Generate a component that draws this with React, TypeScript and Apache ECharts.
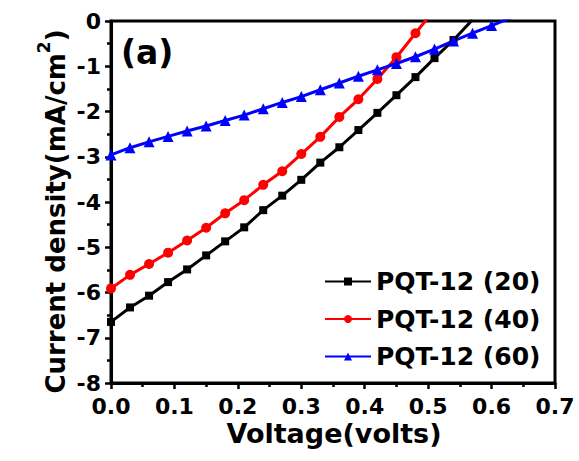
import React, { useEffect, useRef } from "react";
import * as echarts from "echarts";

const seriesNames = ["PQT-12 (20)", "PQT-12 (40)", "PQT-12 (60)"];
const seriesColors = ["#000000", "#ff0000", "#0000ff"];
const seriesSymbols = ["rect", "circle", "triangle"];

const voltage20 = [0, 0.03, 0.06, 0.09, 0.12, 0.15, 0.18, 0.21, 0.24, 0.27, 0.30, 0.33, 0.36, 0.39, 0.42, 0.45, 0.48, 0.51, 0.54, 0.57];
const current20 = [-6.65, -6.33, -6.07, -5.77, -5.49, -5.18, -4.87, -4.56, -4.18, -3.86, -3.51, -3.13, -2.79, -2.41, -2.03, -1.64, -1.24, -0.82, -0.42, 0.03];

const voltage40 = [0, 0.03, 0.06, 0.09, 0.12, 0.15, 0.18, 0.21, 0.24, 0.27, 0.30, 0.33, 0.36, 0.39, 0.42, 0.45, 0.48, 0.51];
const current40 = [-5.91, -5.61, -5.37, -5.12, -4.85, -4.57, -4.25, -3.96, -3.62, -3.32, -2.94, -2.56, -2.12, -1.73, -1.28, -0.80, -0.27, 0.25];

const voltage60 = [0, 0.03, 0.06, 0.09, 0.12, 0.15, 0.18, 0.21, 0.24, 0.27, 0.30, 0.33, 0.36, 0.39, 0.42, 0.45, 0.48, 0.51, 0.54, 0.57, 0.60, 0.63];
const current60 = [-2.96, -2.80, -2.67, -2.55, -2.43, -2.32, -2.20, -2.08, -1.94, -1.80, -1.67, -1.52, -1.37, -1.22, -1.08, -0.94, -0.79, -0.62, -0.44, -0.27, -0.10, 0.07];

const xTitle = "Voltage(volts)";
const yTitleMain = "Current density(mA/cm";
const yTitleSup = "2";
const yTitleEnd = ")";
const panelLabel = "(a)";

const FONT = "DejaVu Sans";

export default function App() {
  const ref = useRef<HTMLDivElement>(null);
  useEffect(() => {
    if (!ref.current) return;
    const chart = echarts.init(ref.current, null, { renderer: "svg" });
    const voltages = [voltage20, voltage40, voltage60];
    const currents = [current20, current40, current60];
    const symbolSizes = [8, 10, 11];
    const series = seriesNames.map((name, i) => ({
      name,
      type: "line",
      data: voltages[i].map((v, k) => [v, currents[i][k]]),
      symbol: seriesSymbols[i],
      symbolSize: symbolSizes[i],
      showAllSymbol: true,
      clip: true,
      lineStyle: { color: seriesColors[i], width: 3 },
      itemStyle: { color: seriesColors[i], borderWidth: 0 },
    }));
    chart.setOption({
      animation: false,
      backgroundColor: "#ffffff",
      grid: {
        left: 111,
        top: 21,
        right: 24,
        bottom: 78,
        show: true,
        borderColor: "#000",
        borderWidth: 3,
        backgroundColor: "transparent",
      },
      xAxis: {
        type: "value",
        min: 0,
        max: 0.7,
        interval: 0.1,
        splitLine: { show: false },
        axisLine: { show: true, onZero: false, lineStyle: { color: "#000", width: 3 } },
        axisTick: { show: true, inside: false, length: 6, lineStyle: { color: "#000", width: 2.5 } },
        minorTick: { show: true, splitNumber: 2, length: 4, lineStyle: { color: "#000", width: 2.5 } },
        axisLabel: {
          color: "#000",
          fontFamily: FONT,
          fontWeight: "bold",
          fontSize: 22,
          margin: 12,
          formatter: (v: number) => v.toFixed(1),
        },
      },
      yAxis: {
        type: "value",
        min: -8,
        max: 0,
        interval: 1,
        splitLine: { show: false },
        axisLine: { show: true, onZero: false, lineStyle: { color: "#000", width: 3 } },
        axisTick: { show: true, inside: false, length: 6, lineStyle: { color: "#000", width: 2.5 } },
        minorTick: { show: true, splitNumber: 2, length: 4, lineStyle: { color: "#000", width: 2.5 } },
        axisLabel: {
          color: "#000",
          fontFamily: FONT,
          fontWeight: "bold",
          fontSize: 22,
          margin: 10,
        },
      },
      legend: {
        orient: "vertical",
        left: 319,
        top: 264,
        itemWidth: 46,
        itemHeight: 10,
        itemGap: 12.5,
        textStyle: {
          color: "#000",
          fontFamily: FONT,
          fontWeight: "bold",
          fontSize: 25,
          lineHeight: 25,
        },
        data: seriesNames,
      },
      graphic: [
        {
          type: "text",
          left: 121,
          top: 36,
          style: {
            text: panelLabel,
            fill: "#000",
            font: `bold 33px '${FONT}'`,
          },
        },
        {
          type: "text",
          x: 334,
          y: 433,
          style: {
            text: xTitle,
            fill: "#000",
            font: `bold 27px '${FONT}'`,
            align: "center",
            verticalAlign: "middle",
          },
        },
        {
          type: "text",
          x: 52,
          y: 211.5,
          rotation: Math.PI / 2,
          style: {
            text: `{b|${yTitleMain}}{s|${yTitleSup}}{b|${yTitleEnd}}`,
            fill: "#000",
            align: "center",
            verticalAlign: "middle",
            rich: {
              b: { fontFamily: FONT, fontWeight: "bold", fontSize: 26, fill: "#000", verticalAlign: "bottom", lineHeight: 33 },
              s: { fontFamily: FONT, fontWeight: "bold", fontSize: 17, fill: "#000", verticalAlign: "top", lineHeight: 19 },
            },
          },
        },
      ],
      series,
    });
    return () => chart.dispose();
  }, []);
  return (
    <div
      ref={ref}
      style={{ position: "fixed", left: 0, top: 0, width: 579, height: 461, background: "#fff" }}
    />
  );
}
